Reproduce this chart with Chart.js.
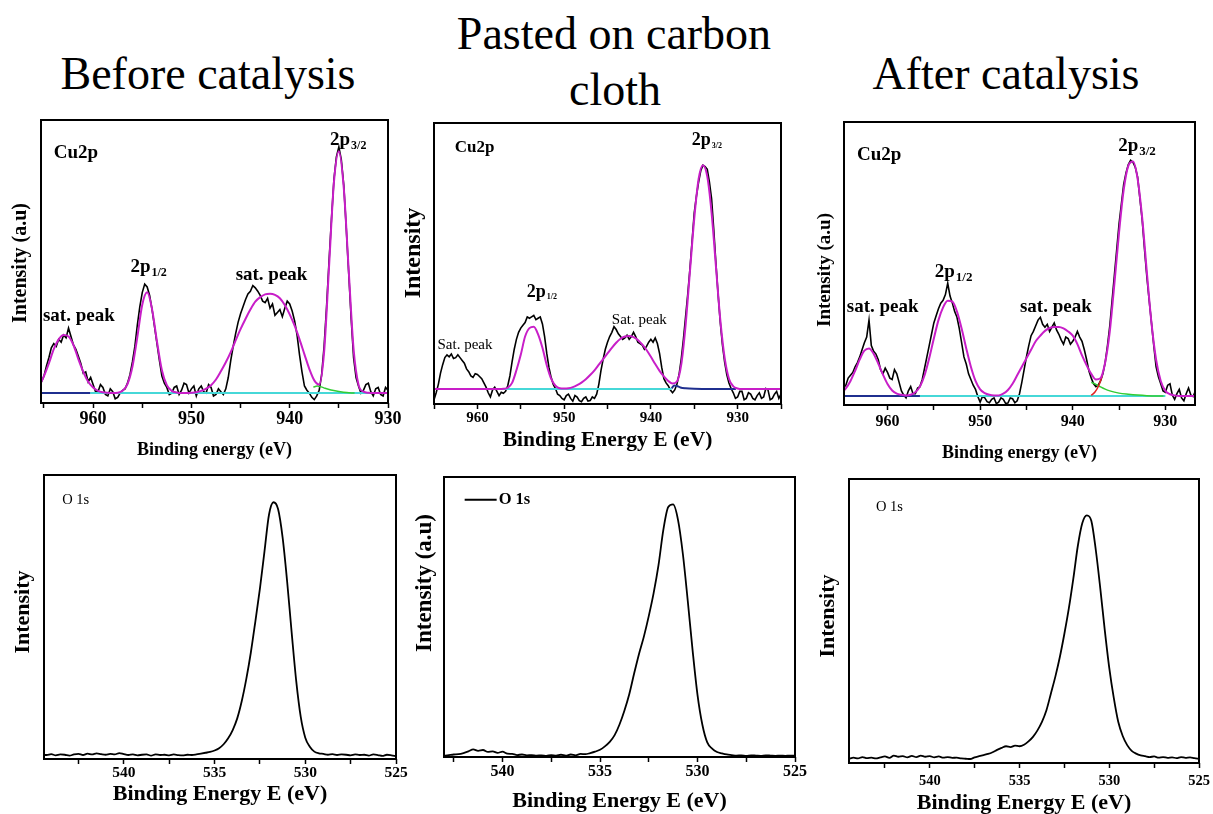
<!DOCTYPE html>
<html>
<head>
<meta charset="utf-8">
<script src="https://cdn.jsdelivr.net/npm/chart.js@4.4.1/dist/chart.umd.min.js"></script>
<style>
  html, body { margin: 0; padding: 0; background: #fff; }
  #page { position: relative; width: 1213px; height: 814px; overflow: hidden; font-family: "Liberation Serif", "Times New Roman", serif; }
  .title { position: absolute; font-size: 46px; line-height: 1; white-space: nowrap; transform: translate(-50%, -50%); color: #000; }
  canvas { position: absolute; }
</style>
</head>
<body>
<div id="page">
  <div class="title" style="left:208px; top:74px">Before catalysis</div>
  <div class="title" style="left:614px; top:34px">Pasted on carbon</div>
  <div class="title" style="left:615px; top:90px">cloth</div>
  <div class="title" style="left:1006px; top:74px">After catalysis</div>
</div>
<script>
// binding energy grid for the Cu 2p fitted envelopes (eV, step 0.5)
const cuE = [
  966, 965.5, 965, 964.5, 964, 963.5, 963, 962.5, 962, 961.5,
  961, 960.5, 960, 959.5, 959, 958.5, 958, 957.5, 957, 956.5,
  956, 955.5, 955, 954.5, 954, 953.5, 953, 952.5, 952, 951.5,
  951, 950.5, 950, 949.5, 949, 948.5, 948, 947.5, 947, 946.5,
  946, 945.5, 945, 944.5, 944, 943.5, 943, 942.5, 942, 941.5,
  941, 940.5, 940, 939.5, 939, 938.5, 938, 937.5, 937, 936.5,
  936, 935.5, 935, 934.5, 934, 933.5, 933, 932.5, 932, 931.5,
  931, 930.5, 930, 929.5, 929, 928.5, 928, 927.5, 927, 926.5,
  926, 925.5, 925, 924.5, 924
]

// binding energy grid for the measured Cu 2p spectra (eV, step 0.25)
const cuRawE = [
  966, 965.75, 965.5, 965.25, 965, 964.75, 964.5, 964.25,
  964, 963.75, 963.5, 963.25, 963, 962.75, 962.5, 962.25,
  962, 961.75, 961.5, 961.25, 961, 960.75, 960.5, 960.25,
  960, 959.75, 959.5, 959.25, 959, 958.75, 958.5, 958.25,
  958, 957.75, 957.5, 957.25, 957, 956.75, 956.5, 956.25,
  956, 955.75, 955.5, 955.25, 955, 954.75, 954.5, 954.25,
  954, 953.75, 953.5, 953.25, 953, 952.75, 952.5, 952.25,
  952, 951.75, 951.5, 951.25, 951, 950.75, 950.5, 950.25,
  950, 949.75, 949.5, 949.25, 949, 948.75, 948.5, 948.25,
  948, 947.75, 947.5, 947.25, 947, 946.75, 946.5, 946.25,
  946, 945.75, 945.5, 945.25, 945, 944.75, 944.5, 944.25,
  944, 943.75, 943.5, 943.25, 943, 942.75, 942.5, 942.25,
  942, 941.75, 941.5, 941.25, 941, 940.75, 940.5, 940.25,
  940, 939.75, 939.5, 939.25, 939, 938.75, 938.5, 938.25,
  938, 937.75, 937.5, 937.25, 937, 936.75, 936.5, 936.25,
  936, 935.75, 935.5, 935.25, 935, 934.75, 934.5, 934.25,
  934, 933.75, 933.5, 933.25, 933, 932.75, 932.5, 932.25,
  932, 931.75, 931.5, 931.25, 931, 930.75, 930.5, 930.25,
  930, 929.75, 929.5, 929.25, 929, 928.75, 928.5, 928.25,
  928, 927.75, 927.5, 927.25, 927, 926.75, 926.5, 926.25,
  926, 925.75, 925.5, 925.25, 925, 924.75, 924.5, 924.25,
  924
]

// Cu 2p, before catalysis
const cuBeforeRaw = [
  5, 4.5, 5.5, 7.5, 9.5, 13, 16, 19.5,
  21, 20, 22.5, 21.5, 24, 23, 26.5, 23.5,
  20.5, 19, 16.5, 14, 10.5, 11, 7.5, 9,
  6.5, 4, 4, 6.5, 5.5, 3, 2.5, 5,
  4, 1.5, 2, 3.5, 4.5, 5, 7, 10,
  14.5, 20, 27.5, 34, 39, 42, 41, 38,
  33, 27, 21, 15, 9.5, 7, 5.5, 3,
  3.5, 5.5, 6, 3, 4.5, 7, 6.5, 3.5,
  5, 6, 2.5, 5, 6, 4, 3.5, 6.5,
  5.5, 2.5, 3, 5, 4, 3, 5, 9,
  15, 20, 24.5, 28.5, 31.5, 34, 36.5, 38.5,
  39.5, 41.5, 40.7, 39.5, 38, 36, 35.5, 37,
  33.5, 35, 31, 32, 33, 30.5, 33.5, 36,
  35, 32.5, 29, 24, 17, 11, 6, 4.5,
  3.5, 2, 1.2, 2.5, 4.5, 10, 20, 34,
  50, 65, 79, 87, 90.5, 86, 77, 62,
  46, 30, 16, 9, 6, 3.5, 4.5, 6.5,
  7, 4, 2.5, 5, 5.5, 3, 2.5, 5.5,
  4.5, 2.5, 3.5
]
const cuBeforeFit = [
  4.5, 6, 9.5, 14, 19, 22.5, 24, 23.5, 20.5, 15.5,
  11, 7.5, 5.5, 4.3, 3.8, 3.6, 3.5, 3.6, 4.3, 6.7,
  12.8, 23.3, 34.7, 39.1, 33.1, 21.7, 11.6, 6.3, 4.3, 3.7,
  3.5, 3.5, 3.6, 3.8, 4.3, 5.1, 6.3, 8.3, 11.2, 14.4,
  18, 22.1, 26.1, 29.7, 33, 35.8, 37.4, 38.4, 38.6, 38.2,
  37, 34.6, 31.3, 27.3, 22.5, 17.2, 12, 8, 6.5, 18,
  48, 78, 89, 76, 47, 19, 6.5, 4, 3.6, 3.5,
  3.5, 3.5, 3.5, 3.5
]
const cuBeforeNavyE = [966, 960.3]
const cuBeforeNavy = [3.5, 3.5]
const cuBeforeCyanE = [960.3, 929.5]
const cuBeforeCyan = [3.5, 3.5]
const cuBeforeGreenE = [937.6, 937.2, 936.8, 936.4, 935.8, 935, 934.2, 933.4]
const cuBeforeGreen = [5.6, 6.0, 5.7, 5.2, 4.6, 4.1, 3.7, 3.5]

// Cu 2p, pasted on carbon cloth
const cuPastedRaw = [
  1, 1.5, 1.2, 0.8, 1.5, 4, 7, 11,
  14, 16.5, 17.5, 16.8, 17.8, 16.2, 16.5, 17.5,
  16.5, 15.5, 14.5, 12.5, 11.5, 10, 9.5, 10.8,
  10.5, 9.8, 9, 7.5, 6, 4, 2.5, 5,
  6, 4.5, 3, 4.2, 3.8, 4.5, 6.5, 10,
  15, 19.5, 23, 25.5, 27, 28, 29, 31,
  30.5, 31, 31.5, 30, 30.5, 31, 28.5, 24,
  18, 13, 9.5, 7, 5.5, 3.5, 3, 2,
  1.5, 3, 3.5, 2, 1, 3, 2.5, 1.2,
  0.8, 2, 2.5, 1, 1.2, 2.5, 2, 3.5,
  7, 12, 16, 19.5, 22, 24, 25.5, 27.5,
  26.5, 25, 24, 23, 23.5, 24.5, 23, 24,
  25.5, 24, 22, 21.5, 21, 19.5, 20.5, 22,
  23, 22, 23.5, 21.5, 18, 13, 9, 7.5,
  6.5, 5, 4, 5, 7, 10.5, 16, 23,
  31, 39, 48, 58, 68, 74, 79, 83,
  85, 84.5, 83.5, 79, 73, 62, 50, 39,
  29, 21, 15, 10.5, 7.5, 5.5, 4, 2,
  2.5, 4.5, 4.5, 1.5, 2, 4, 3.5, 2,
  1.5, 3, 4, 2, 2.5, 5.5, 5, 1.5,
  2, 3.5, 4.5, 2, 3.5, 4, 2.5
]
const cuPastedFit = [
  5.3, 5.3, 5.3, 5.3, 5.3, 5.3, 5.3, 5.3, 5.3, 5.3,
  5.3, 5.3, 5.3, 5.3, 5.3, 5.3, 5.3, 5.3, 5.4, 5.8,
  7.5, 12, 17.5, 24, 27, 27.5, 24.8, 20, 13.8, 9,
  6.5, 5.6, 5.5, 5.6, 6, 6.7, 7.6, 8.8, 10.3, 12,
  14, 16, 18, 20, 21.8, 23.2, 24, 24.2, 23.8, 22.8,
  21.2, 19.2, 16.8, 14.2, 11.8, 9.8, 8.2, 7.3, 8, 14,
  28, 47, 66, 80, 85, 81, 68, 49, 30, 16.5,
  9, 6.3, 5.5, 5.3, 5.3, 5.3, 5.3, 5.3, 5.3, 5.3,
  5.3, 5.3, 5.3, 5.3
]
const cuPastedCyanE = [966, 937.6]
const cuPastedCyan = [5.3, 5.3]
const cuPastedNavyE = [937.6, 937.3, 937, 936.6, 936, 935, 933, 931, 930.2]
const cuPastedNavy = [5.6, 6.6, 6.4, 5.9, 5.6, 5.4, 5.3, 5.3, 5.3]

// Cu 2p, after catalysis
const cuAfterRaw = [
  3, 3.5, 3.5, 4, 4.5, 6, 7, 9.5,
  10.5, 11.5, 13.5, 15, 17, 19.5, 22, 24,
  30, 21, 19, 18, 16, 12.5, 11, 13,
  11.5, 9.5, 9, 12.5, 11, 8, 5, 3.5,
  2.5, 5, 6.5, 4, 4, 6, 6.5, 9,
  13, 17, 21, 25, 29, 31.5, 34, 36,
  37, 39, 43, 38.5, 36, 33, 31, 27,
  22, 17, 14.5, 11, 9, 7, 5.5, 3,
  1, 3, 2.5, 1.2, 0.8, 2, 2.5, 0.5,
  1, 2.5, 2, 0.6, 0.7, 2.5, 2.2, 0.8,
  1.5, 4, 8, 12.5, 17, 21, 24.5, 26,
  28, 30, 31, 28.5, 27.5, 28.5, 26, 27.5,
  29, 26.5, 25, 23, 21.5, 24, 23.5, 21.5,
  22.5, 24, 26, 24, 22.5, 19.5, 16, 12,
  9.5, 7.5, 6.5, 7, 8.5, 11, 15, 21,
  28, 37, 46, 55, 64, 71, 78, 82,
  85, 86.5, 85.8, 84, 80.6, 73, 65.3, 55,
  45.3, 37, 29, 21, 13.5, 10, 7.5, 5,
  4.5, 7, 7.5, 3.5, 2, 4, 5.5, 2.5,
  1.5, 4, 6, 3.5, 3, 5, 4
]
const cuAfterFit = [
  3.4, 3.7, 4.4, 5.9, 8.5, 12.1, 16.1, 19.2, 20, 18.1,
  14.6, 10.8, 7.4, 5.1, 4, 3.6, 3.4, 3.6, 4.5, 6.5,
  10.5, 16.5, 23.5, 30, 34.5, 36.8, 36.5, 33, 27, 20,
  13.5, 8.5, 5.5, 4.2, 3.6, 3.4, 3.4, 4, 5.3, 7.5,
  10.5, 13.5, 16.5, 19.5, 22.5, 24.5, 26.2, 27.2, 27.6, 27.6,
  27.1, 26, 24.5, 21.5, 17.5, 14, 11, 9, 9.5, 15,
  26, 43, 61, 76, 84.5, 86, 80, 66, 47, 29,
  16, 8.5, 5, 3.8, 3.4, 3.2, 3.2, 3.2, 3.2, 3.2
]
const cuAfterNavyE = [966, 956.5]
const cuAfterNavy = [3.2, 3.2]
const cuAfterCyanE = [956.5, 930]
const cuAfterCyan = [3.2, 3.2]
const cuAfterGreenE = [938, 937.5, 937, 936.5, 936, 935, 934, 933, 932, 931, 930.2]
const cuAfterGreen = [8.0, 7.3, 6.4, 5.6, 5.0, 4.2, 3.8, 3.5, 3.3, 3.2, 3.2]
const cuAfterRedE = [938, 937.6, 937.2, 936.8]
const cuAfterRed = [3.4, 4.6, 6.8, 10.5]

// binding energy grid shared by the O 1s spectra (eV, step 0.25)
const oE = [
  544.5, 544.25, 544, 543.75, 543.5, 543.25, 543, 542.75, 542.5, 542.25,
  542, 541.75, 541.5, 541.25, 541, 540.75, 540.5, 540.25, 540, 539.75,
  539.5, 539.25, 539, 538.75, 538.5, 538.25, 538, 537.75, 537.5, 537.25,
  537, 536.75, 536.5, 536.25, 536, 535.75, 535.5, 535.25, 535, 534.75,
  534.5, 534.25, 534, 533.75, 533.5, 533.25, 533, 532.75, 532.5, 532.25,
  532, 531.75, 531.5, 531.25, 531, 530.75, 530.5, 530.25, 530, 529.75,
  529.5, 529.25, 529, 528.75, 528.5, 528.25, 528, 527.75, 527.5, 527.25,
  527, 526.75, 526.5, 526.25, 526, 525.75, 525.5, 525.25, 525
]
const oBefore = [
  1.6, 1.4, 1.7, 1.3, 1.6, 1.5, 1.2, 1.6, 1.8, 1.4,
  1.9, 1.6, 2.0, 1.7, 1.5, 1.8, 1.6, 2.1, 1.7, 1.4,
  1.6, 1.3, 1.5, 1.6, 1.2, 1.6, 1.4, 1.5, 1.3, 1.6,
  1.4, 1.3, 1.5, 1.4, 1.6, 1.9, 2.2, 2.5, 3.0, 3.8,
  5.2, 7.3, 10.2, 14.3, 20.4, 28.2, 37.5, 48.5, 60.0, 73.0,
  86.0, 90.4, 88.0, 78.0, 62.5, 44.5, 27.5, 14.8, 7.5, 4.3,
  2.6, 2.0, 1.8, 1.5, 1.7, 1.4, 1.6, 1.5, 1.3, 1.6,
  1.4, 1.5, 1.2, 1.6, 1.4, 1.1, 1.5, 1.3, 1.0
]
const oPasted = [
  0.6, 0.8, 0.5, 0.7, 0.6, 0.8, 0.5, 0.7, 0.9, 1.0,
  1.4, 2.0, 2.7, 2.2, 2.5, 1.8, 2.0, 1.5, 1.9, 1.2,
  1.1, 0.7, 0.9, 0.6, 0.7, 0.5, 0.6, 0.4, 0.7, 0.5,
  0.8, 0.5, 0.9, 0.6, 1.1, 1.0, 1.4, 1.9, 2.6, 3.8,
  5.4, 7.8, 11.6, 16.5, 22.4, 29.8, 36.8, 43.0, 50.3, 58.5,
  68.5, 81.2, 89.3, 90.2, 84.7, 72.5, 55.8, 38.0, 22.2, 11.5,
  5.2, 3.0, 1.8, 1.3, 0.9, 0.7, 0.5, 0.6, 0.4, 0.6,
  0.5, 0.4, 0.6, 0.5, 0.4, 0.5, 0.4, 0.5, 0.4
]
const oAfter = [
  1.5, 1.9, 1.6, 2.1, 1.7, 1.9, 1.6, 2.0, 2.3, 1.8,
  2.6, 2.2, 2.4, 2.0, 2.5, 2.1, 2.6, 2.2, 2.4, 2.0,
  2.3, 1.9, 2.1, 1.8, 1.9, 1.6, 1.5, 1.4, 2.0, 2.4,
  2.8, 3.2, 3.8, 4.6, 5.3, 5.9, 5.6, 6.1, 5.9, 6.4,
  7.6, 9.2, 11.5, 14.5, 18.6, 24.5, 30.5, 37.4, 45.5, 54.5,
  65.0, 76.5, 84.5, 87.2, 85.3, 75.0, 61.5, 46.8, 33.5, 23.0,
  14.5, 9.5, 6.3, 4.3, 3.3, 2.7, 2.4, 2.1, 2.3, 1.9,
  2.1, 1.8, 2.0, 1.7, 2.1, 1.8, 2.0, 1.7, 1.5
]

// tick values (major ones get a label)
const cuTicks = [965, 960, 955, 950, 945, 940, 935, 930, 925]
const oTicks = [542.5, 540, 537.5, 535, 532.5, 530, 527.5, 525]

const SERIF = '"Liberation Serif", "Times New Roman", serif'
const MAGENTA = "#c81ec8"
const CYAN = "#46d8d8"
const NAVY = "#1f2f8f"
const GREEN = "#33cc33"
const RED = "#e02424"
const TICK_LEN = 5

Chart.defaults.font.family = SERIF
Chart.defaults.color = "#000"

function xy(energies, values) {
  return values.map((v, i) => ({ x: energies[i], y: v }))
}

function line(data, color, width, smooth) {
  return {
    data,
    borderColor: color,
    borderWidth: width,
    pointRadius: 0,
    fill: false,
    tension: 0,
    cubicInterpolationMode: smooth ? "monotone" : "default"
  }
}

const cuLines = (fit, raw, extra) => [line(fit, MAGENTA, 2, true), ...extra, line(raw, "#000", 1.6, false)]

const panels = [
  {
    frame: { l: 41, t: 120, r: 388, b: 403 }, xMin: 930, xMax: 965.3, ticks: cuTicks, major: 10,
    tickFont: 18, tickY: 419, xTitle: "Binding energy (eV)", xTitleFont: 18, xTitleY: 450,
    yTitle: "Intensity (a.u)", yTitleFont: 20, yTitleX: 21, yTitleY: 263,
    datasets: cuLines(xy(cuE, cuBeforeFit), xy(cuRawE, cuBeforeRaw), [
      line(xy(cuBeforeGreenE, cuBeforeGreen), GREEN, 1.5, true),
      line(xy(cuBeforeNavyE, cuBeforeNavy), NAVY, 2, false),
      line(xy(cuBeforeCyanE, cuBeforeCyan), CYAN, 2, false)
    ]),
    notes: [
      { e: 964.0, v: 88.4, text: "Cu2p", size: 19, bold: true },
      { e: 935.9, v: 92.9, text: "2p", sub: "3/2", size: 19, subSize: 12, bold: true },
      { e: 956.2, v: 48.1, text: "2p", sub: "1/2", size: 19, subSize: 12, bold: true },
      { e: 945.5, v: 45.3, text: "sat. peak", size: 19, bold: true },
      { e: 965.1, v: 30.8, text: "sat. peak", size: 19, bold: true }
    ]
  },
  {
    frame: { l: 434, t: 123, r: 781, b: 404 }, xMin: 925, xMax: 965, ticks: cuTicks, major: 10,
    tickFont: 15, tickY: 418, xTitle: "Binding Energy E (eV)", xTitleFont: 21.5, xTitleY: 440,
    yTitle: "Intensity", yTitleFont: 24, yTitleX: 414, yTitleY: 253,
    datasets: cuLines(xy(cuE, cuPastedFit), xy(cuRawE, cuPastedRaw), [
      line(xy(cuPastedNavyE, cuPastedNavy), NAVY, 2, true),
      line(xy(cuPastedCyanE, cuPastedCyan), CYAN, 2, false)
    ]),
    notes: [
      { e: 962.6, v: 91.4, text: "Cu2p", size: 17, bold: true },
      { e: 935.3, v: 93.7, text: "2p", sub: "3/2", size: 18, subSize: 8, bold: true },
      { e: 954.3, v: 39.9, text: "2p", sub: "1/2", size: 18, subSize: 8, bold: true },
      { e: 944.5, v: 29.9, text: "Sat. peak", size: 15, bold: false },
      { e: 964.6, v: 21.0, text: "Sat. peak", size: 15, bold: false }
    ]
  },
  {
    frame: { l: 844, t: 122, r: 1195, b: 405 }, xMin: 926.8, xMax: 964.7, ticks: cuTicks, major: 10,
    tickFont: 16, tickY: 422, xTitle: "Binding energy (eV)", xTitleFont: 18, xTitleY: 453,
    yTitle: "Intensity (a.u)", yTitleFont: 19, yTitleX: 825, yTitleY: 270,
    datasets: cuLines(xy(cuE, cuAfterFit), xy(cuRawE, cuAfterRaw), [
      line(xy(cuAfterRedE, cuAfterRed), RED, 1.5, true),
      line(xy(cuAfterGreenE, cuAfterGreen), GREEN, 1.5, true),
      line(xy(cuAfterNavyE, cuAfterNavy), NAVY, 2, false),
      line(xy(cuAfterCyanE, cuAfterCyan), CYAN, 2, false)
    ]),
    notes: [
      { e: 963.3, v: 88.2, text: "Cu2p", size: 19, bold: true },
      { e: 935.1, v: 91.4, text: "2p", sub: "3/2", size: 19, subSize: 13, bold: true },
      { e: 954.9, v: 46.9, text: "2p", sub: "1/2", size: 19, subSize: 13, bold: true },
      { e: 964.4, v: 34.6, text: "sat. peak", size: 19, bold: true },
      { e: 945.7, v: 34.6, text: "sat. peak", size: 19, bold: true }
    ]
  },
  {
    frame: { l: 44, t: 475, r: 396, b: 759 }, xMin: 525, xMax: 544.4, ticks: oTicks, major: 5,
    tickFont: 15.5, tickY: 773, xTitle: "Binding Energy E (eV)", xTitleFont: 22, xTitleY: 794,
    yTitle: "Intensity", yTitleFont: 22, yTitleX: 23, yTitleY: 612,
    datasets: [line(xy(oE, oBefore), "#000", 1.8, true)],
    notes: [{ e: 543.4, v: 91.2, text: "O 1s", size: 14.5, bold: false }]
  },
  {
    frame: { l: 444, t: 477, r: 795, b: 757 }, xMin: 525, xMax: 543, ticks: oTicks, major: 5,
    tickFont: 16, tickY: 772, xTitle: "Binding Energy E (eV)", xTitleFont: 22, xTitleY: 801,
    yTitle: "Intensity (a.u)", yTitleFont: 23, yTitleX: 425, yTitleY: 583,
    datasets: [line(xy(oE, oPasted), "#000", 1.8, true)],
    notes: [{ e: 541.94, e2: 540.3, v: 91.9, text: "O 1s", size: 16.5, bold: true }]
  },
  {
    frame: { l: 849, t: 479, r: 1199, b: 763 }, xMin: 525, xMax: 544.5, ticks: oTicks, major: 5,
    tickFont: 14.5, tickY: 781, xTitle: "Binding Energy E (eV)", xTitleFont: 22, xTitleY: 803,
    yTitle: "Intensity", yTitleFont: 22, yTitleX: 828, yTitleY: 616,
    datasets: [line(xy(oE, oAfter), "#000", 1.8, true)],
    notes: [{ e: 543.0, v: 89.9, text: "O 1s", size: 14.5, bold: false }]
  }
]

function geometry(p) {
  const f = p.frame
  const left = Math.floor(Math.min(p.yTitleX - p.yTitleFont * 0.7, f.l - 6))
  const top = f.t - 8
  const right = f.r + 24
  const tickPad = p.tickY - f.b - TICK_LEN - p.tickFont / 2
  const titlePad = p.xTitleY - f.b - TICK_LEN - p.tickFont - 2 * tickPad - p.xTitleFont / 2
  const axisH = TICK_LEN + p.tickFont + 2 * tickPad + titlePad + p.xTitleFont + 2
  const height = Math.ceil(f.b - top + axisH + 2)
  return {
    left, top, width: right - left, height, tickPad, titlePad,
    pad: { left: f.l - left, top: f.t - top, right: right - f.r, bottom: height - (f.b - top) - axisH }
  }
}

function decorations(p, geo) {
  return {
    id: "decorations",
    afterDraw(chart) {
      const { ctx, chartArea: a, scales } = chart
      ctx.save()
      ctx.fillStyle = "#000"
      ctx.strokeStyle = "#000"
      ctx.textAlign = "left"
      ctx.textBaseline = "middle"
      for (const n of p.notes) {
        let x = scales.x.getPixelForValue(n.e)
        const y = scales.y.getPixelForValue(n.v)
        if (n.e2 !== undefined) {
          const x2 = scales.x.getPixelForValue(n.e2)
          ctx.lineWidth = 2
          ctx.beginPath()
          ctx.moveTo(x, y)
          ctx.lineTo(x2, y)
          ctx.stroke()
          x = x2 + 2
        }
        ctx.font = `${n.bold ? "bold " : ""}${n.size}px ${SERIF}`
        ctx.fillText(n.text, x, y)
        if (n.sub) {
          const w = ctx.measureText(n.text).width
          ctx.font = `bold ${n.subSize}px ${SERIF}`
          ctx.fillText(n.sub, x + w + 1, y + n.size * 0.3)
        }
      }
      // y axis title
      ctx.translate(p.yTitleX - geo.left, p.yTitleY - geo.top)
      ctx.rotate(-Math.PI / 2)
      ctx.textAlign = "center"
      ctx.font = `bold ${p.yTitleFont}px ${SERIF}`
      ctx.fillText(p.yTitle, 0, 0)
      ctx.restore()
      // frame
      ctx.save()
      ctx.strokeStyle = "#000"
      ctx.lineWidth = 2
      ctx.strokeRect(a.left, a.top, a.right - a.left, a.bottom - a.top)
      ctx.restore()
    }
  }
}

const page = document.getElementById("page")

panels.forEach((p) => {
  const geo = geometry(p)
  const canvas = document.createElement("canvas")
  canvas.width = geo.width
  canvas.height = geo.height
  canvas.style.left = geo.left + "px"
  canvas.style.top = geo.top + "px"
  canvas.style.width = geo.width + "px"
  canvas.style.height = geo.height + "px"
  page.appendChild(canvas)

  const tickValues = p.ticks.filter((v) => v >= p.xMin && v <= p.xMax)

  new Chart(canvas, {
    type: "line",
    data: { datasets: p.datasets },
    options: {
      responsive: false,
      animation: false,
      events: [],
      layout: { padding: geo.pad },
      plugins: { legend: { display: false }, tooltip: { enabled: false } },
      scales: {
        x: {
          type: "linear",
          reverse: true,
          min: p.xMin,
          max: p.xMax,
          afterBuildTicks: (scale) => {
            scale.ticks = tickValues.map((v) => ({ value: v }))
          },
          border: { display: false },
          grid: { drawOnChartArea: false, drawTicks: true, tickLength: TICK_LEN, tickColor: "#000", tickWidth: 1.5 },
          ticks: {
            autoSkip: false,
            maxRotation: 0,
            padding: geo.tickPad,
            color: "#000",
            font: { family: SERIF, size: p.tickFont, weight: "bold", lineHeight: 1 },
            callback: (v) => (v % p.major === 0 ? String(v) : "")
          },
          title: {
            display: true,
            text: p.xTitle,
            color: "#000",
            font: { family: SERIF, size: p.xTitleFont, weight: "bold", lineHeight: 1 },
            padding: { top: geo.titlePad, bottom: 2 }
          }
        },
        y: { display: false, min: 0, max: 100 }
      }
    },
    plugins: [decorations(p, geo)]
  })
})
</script>
</body>
</html>
